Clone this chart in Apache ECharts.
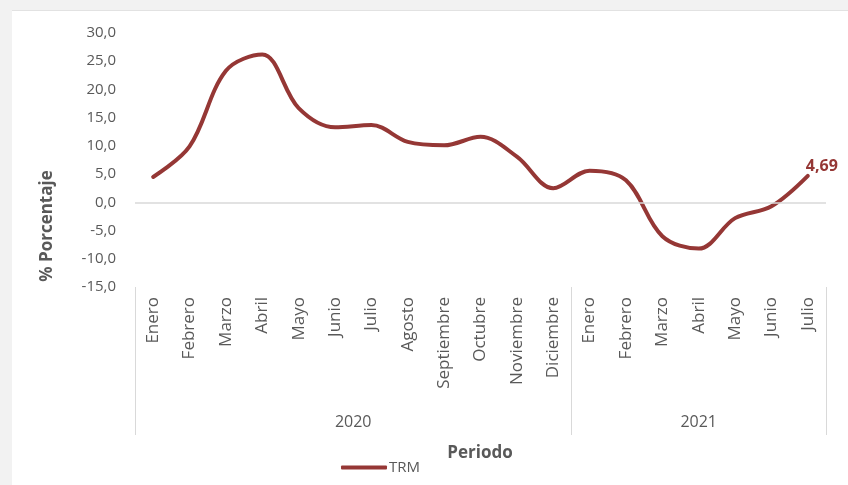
<!DOCTYPE html>
<html>
<head>
<meta charset="utf-8">
<script src="https://cdn.jsdelivr.net/npm/echarts@6/dist/echarts.min.js"></script>
<style>
  html, body { margin: 0; padding: 0; background: #f2f2f2; }
  #panel { position: absolute; left: 12px; top: 10px; width: 836px; height: 475px; background: #fff; border-top: 1px solid #e2e2e2; }
  #chart { position: absolute; left: 0; top: 0; width: 848px; height: 485px; }
</style>
</head>
<body>
<div id="panel"></div>
<div id="chart"></div>
<script>
// Data
const months = ['Enero','Febrero','Marzo','Abril','Mayo','Junio','Julio','Agosto','Septiembre','Octubre','Noviembre','Diciembre',
                'Enero','Febrero','Marzo','Abril','Mayo','Junio','Julio'];
const years = ['2020', '2021'];
const yearMonthCounts = [12, 7];
const trmValues = [4.5, 9.9, 23.3, 26.2, 16.7, 13.3, 13.7, 10.7, 10.1, 11.6, 8.1, 2.5, 5.6, 3.9, -6.0, -8.2, -2.8, -0.7, 4.69];
const yTicks = { min: -15, max: 30, interval: 5 };

// Build half-month slots for the year grouping axis (boundaries + centres)
const slotCount = months.length * 2 + 1;
const yearSlots = new Array(slotCount).fill('');
const boundarySlots = [0];
const yearCenterSlots = {};
let acc = 0;
years.forEach((y, i) => {
  const c = acc * 2 + yearMonthCounts[i];
  yearSlots[c] = y;
  yearCenterSlots[c] = true;
  acc += yearMonthCounts[i];
  boundarySlots.push(acc * 2);
});

const gray = '#595959';
const lineColor = '#953735';
const fontFam = '"Open Sans", "Liberation Sans", sans-serif';

const chart = echarts.init(document.getElementById('chart'), null, { renderer: 'canvas' });
chart.setOption({
  backgroundColor: 'transparent',
  animation: false,
  grid: { left: 135, right: 22, top: 33, bottom: 198, containLabel: false },
  xAxis: [
    {
      type: 'category',
      data: months,
      position: 'bottom',
      axisLine: { show: false, onZero: false },
      axisTick: { show: false },
      axisLabel: { rotate: 90, margin: 10, color: gray, fontSize: 17, fontFamily: fontFam, interval: 0 },
      splitLine: { show: false }
    },
    {
      type: 'category',
      data: yearSlots,
      boundaryGap: false,
      position: 'bottom',
      axisLine: { show: false, onZero: false },
      axisTick: {
        show: true, length: 148, inside: false,
        interval: (idx) => boundarySlots.indexOf(idx) >= 0,
        lineStyle: { color: '#d9d9d9', width: 1 }
      },
      axisLabel: {
        margin: 127, color: gray, fontSize: 16, fontFamily: fontFam,
        interval: (idx) => !!yearCenterSlots[idx]
      },
      splitLine: { show: false }
    }
  ],
  yAxis: {
    type: 'value',
    min: yTicks.min, max: yTicks.max, interval: yTicks.interval,
    axisLine: { show: false },
    axisTick: { show: false },
    splitLine: { show: false },
    axisLabel: {
      margin: 19, color: gray, fontSize: 15, fontFamily: fontFam,
      formatter: (v) => v.toFixed(1).replace('.', ',')
    }
  },
  legend: {
    show: true,
    left: 336, top: 455,
    icon: 'roundRect',
    itemWidth: 46, itemHeight: 4,
    itemGap: 10,
    textStyle: { color: gray, fontSize: 15, fontFamily: fontFam, padding: [0, 0, 0, -3] },
    data: ['TRM']
  },
  graphic: [
    {
      type: 'text', x: 47, y: 226, rotation: Math.PI / 2,
      style: { text: '% Porcentaje', fill: gray, font: 'bold 17px ' + fontFam, textAlign: 'center', textVerticalAlign: 'middle' }
    },
    {
      type: 'text', x: 480, y: 453,
      style: { text: 'Periodo', fill: gray, font: 'bold 17px ' + fontFam, textAlign: 'center', textVerticalAlign: 'middle' }
    }
  ],
  series: [
    {
      name: 'TRM',
      type: 'line',
      data: trmValues,
      xAxisIndex: 0,
      smooth: 0.35,
      showSymbol: false,
      symbol: 'none',
      lineStyle: { color: lineColor, width: 4, cap: 'round' },
      itemStyle: { color: lineColor },
      endLabel: {
        show: true,
        distance: 0,
        offset: [-2, -9],
        color: lineColor,
        fontSize: 16,
        fontWeight: 'bold',
        fontFamily: fontFam,
        formatter: (p) => Number(p.value).toFixed(2).replace('.', ',')
      },
      markLine: {
        silent: true,
        symbol: 'none',
        label: { show: false },
        lineStyle: { color: '#d9d9d9', width: 1.5, type: 'solid' },
        data: [{ yAxis: 0 }]
      },
      z: 3
    }
  ]
});
</script>
</body>
</html>
